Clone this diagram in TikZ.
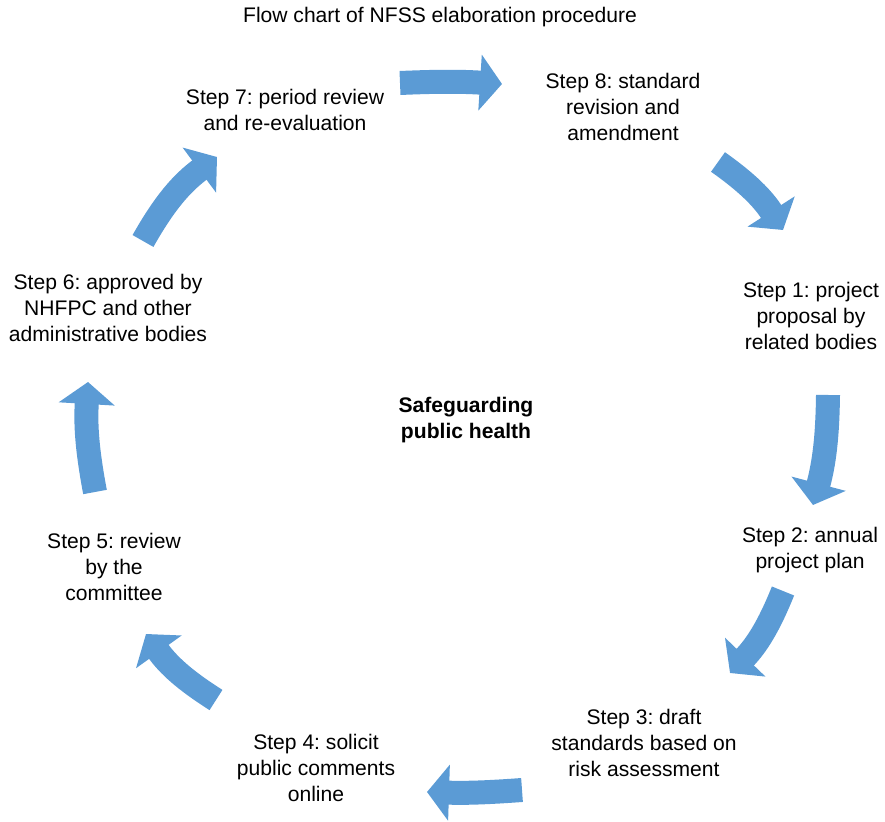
\documentclass[tikz,border=0pt]{standalone}
\usepackage{fontspec}
\setmainfont{Liberation Sans}
\frenchspacing
\usepackage{tikz}
\usetikzlibrary{arrows.meta, positioning}

\definecolor{stepblue}{RGB}{91,155,213}

\begin{document}
\begin{tikzpicture}[
    x=0.02cm, y=0.02cm,
    every node/.style={font=\fontsize{12}{14.8}\selectfont, align=center, inner sep=0pt},
    steptext/.style={text=black},
    blockarrow/.style={draw=stepblue, line width=0.48cm, line cap=butt,
        -{Triangle[length=0.44cm, width=1.1cm]}}
]
\useasboundingbox (0,0) rectangle (885,821);

% Nodes
\node (title) at (440,804) {Flow chart of NFSS elaboration procedure};
\node[font=\fontsize{12}{14.8}\selectfont\bfseries] (centre) at (466,401) {Safeguarding\\public health};
\node[steptext] (s1) at (811,505) {Step 1: project\\proposal by\\related bodies};
\node[steptext] (s2) at (810,271) {Step 2: annual\\project plan};
\node[steptext] (s3) at (644,78) {Step 3: draft\\standards based on\\risk assessment};
\node[steptext] (s4) at (316,53) {Step 4: solicit\\public comments\\online};
\node[steptext] (s5) at (114,254) {Step 5: review\\by the\\committee};
\node[steptext] (s6) at (108,513) {Step 6: approved by\\NHFPC and other\\administrative bodies};
\node[steptext] (s7) at (285,711) {Step 7: period review\\and re-evaluation};
\node[steptext] (s8) at (623,714) {Step 8: standard\\revision and\\amendment};

% Arrow ends (tail and head)
\coordinate (a1t) at (400,738); \coordinate (a1h) at (502,737);
\coordinate (a2t) at (718,659); \coordinate (a2h) at (783,591);
\coordinate (a3t) at (828,426); \coordinate (a3h) at (813,316);
\coordinate (a4t) at (783,230); \coordinate (a4h) at (730,148);
\coordinate (a5t) at (522,31);  \coordinate (a5h) at (427,29);
\coordinate (a6t) at (216,121); \coordinate (a6h) at (146,187);
\coordinate (a7t) at (95,329);  \coordinate (a7h) at (88,439);
\coordinate (a8t) at (143,580); \coordinate (a8h) at (217,664);

% Arrows round the cycle
\foreach \i/\b in {1/3, 2/11, 3/7, 4/11, 5/3, 6/11, 7/7, 8/12}
    \draw[blockarrow] (a\i t) to[bend left=\b] (a\i h);

\end{tikzpicture}
\end{document}
